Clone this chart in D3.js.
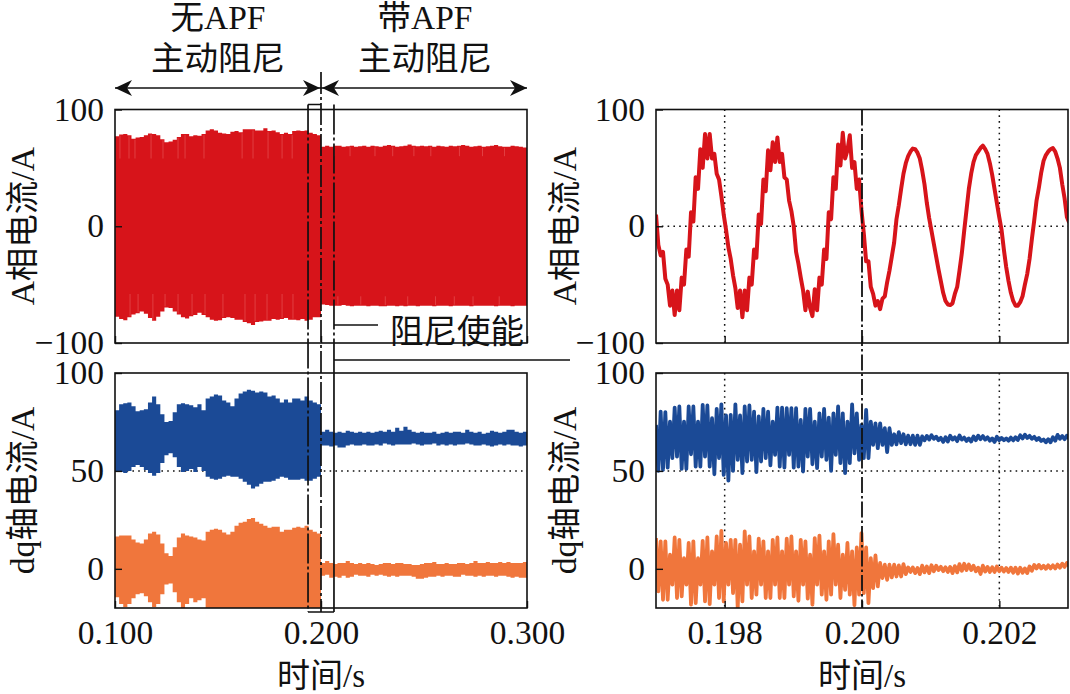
<!DOCTYPE html>
<html>
<head>
<meta charset="UTF-8">
<title>APF 主动阻尼</title>
<script src="https://d3js.org/d3.v7.min.js"></script>
<style>
  html, body {margin: 0; padding: 0; background: #fff;}
  text {font-family: "Liberation Serif", "Noto Sans CJK SC", serif; fill: #111;}
</style>
</head>
<body>
<div id="chart"></div>
<script>
// left panels: envelopes read every 0.002 s, 0.100 .. 0.300
var bandStart = 0.1, bandStep = 0.002;
var ia_hi = [77,78.6,79,78,75,76,76.5,78,79.5,79,
  78,74.5,72,72.5,74,76.5,79,79,77,78,
  77.5,79,82,83,82,80,79.5,79,81,81.5,
  80.5,83,83,83,82,82,84,81.5,82,80.5,
  79,80,79,81.5,82,81.5,82,80,79,78,
  68,69,68,69,69,68,68.5,69,68,68.5,
  69,68,69,68.5,68,69,69.5,69,68,68.5,
  69,70,69,68.5,69,68.5,69,68,69,68.5,
  68,69,68.5,69,69.5,69,68,68.5,69,68,
  68.5,69,69.5,68.5,68,68,69,68.5,68,67.5,67.5];
var ia_lo = [-77.5,-79.5,-80.5,-78,-75.5,-74.5,-73,-75,-78.5,-81,
  -77.5,-73,-69.5,-70,-73,-75.5,-78,-79,-77,-76,
  -74,-76,-78,-80,-81,-80.5,-78.5,-78,-78.5,-80,
  -80,-82,-83,-84.5,-82,-81.5,-81,-81,-79.5,-80,
  -79.5,-78.5,-80,-80,-80.5,-79.5,-81,-80,-78,-78,
  -67,-67.5,-68,-68,-68,-67.5,-68,-68.5,-68,-68,
  -68,-68.5,-68,-68,-68.5,-68.5,-68,-68,-68.5,-68,
  -68.5,-68,-68,-68.5,-68,-68,-68,-68.5,-68,-68,
  -68,-68.5,-68,-68,-68,-68,-68.5,-68,-68,-68,
  -68,-68,-68.5,-68,-68,-68,-68.5,-68,-68,-68,-68];
var id_hi = [81,84,84.5,85,83,80.5,81,81.5,85,88,
  84,79,75,75.5,80,84,84.5,84,83.5,82.5,
  84,81,87,88,89,88.5,86,85,83,87,
  89.5,90.5,91.5,91,90,90.5,90,88,88.5,87,
  85,86.5,85,87,87,86,88,86,85,84,
  70,71,70,69.5,70,69.5,70.5,70,69.5,70,
  69.5,70,69.5,70,70.5,70,71,70,72,70.5,
  72.5,71,70,69.5,70,69.5,69.5,70,69,69.5,
  70,69.5,70,70,69.5,71,70,69.5,70,69,
  69.5,70.5,70,69.5,70,71,71,70,69.5,70,69.5];
var id_lo = [49.7,49.5,49,50,52,53,52,50.5,49,47.5,
  49,54,58,59,57,52,49.5,50,51,49.5,
  52,50,47,46,45.5,46,47,47.5,47,47,
  46,44.5,43,41,42,43.5,44.5,44.5,45,46,
  47,46.5,45.5,45.5,45.5,46,45,45,46,47,
  63,63,62.5,63,62,62,63,63.5,63,63,
  63.5,63,63,63.5,63,64,63.5,63,63.5,63.5,
  63.5,63.5,64,63.5,63,63.5,63.5,64,63,63.5,
  63,63.5,63,63.5,63.5,64,63.5,63,63,63.5,
  63,62.5,63,63.5,63,63.5,63,63,62.5,63,63];
var iq_hi = [16.5,17,17,17,15,13.5,13,15,18,19,
  17.5,13,8,6.5,11,16,18,17,16.5,16,
  15,14.5,19,20,20.5,20,18.5,17.5,19,22,
  23.5,24,25.5,26,24,23,22,21,21.5,21.5,
  19,20,20,21,21.5,21,22,20,19,18,
  3,4,3,2.5,3,3,4,3,2.5,3,
  2.5,3,2.5,2,2.5,3,3,2.5,3,3,
  2.5,2.5,2,2,2.5,3,3,3.5,2.5,2.5,
  3,2.5,2.5,3,3,2.5,3,4,3,3,
  3.5,3,3,3.5,3,3.5,3,3,3,3.5,2.5];
var iq_lo = [-14.5,-18,-19.5,-18,-15,-13,-12.5,-14,-17,-19.5,
  -18,-13,-8,-7.5,-12,-17,-20,-18,-15,-17,
  -16,-15,-21,-22,-23,-22,-21,-23,-24,-22,
  -23,-24,-25,-24,-23,-24,-22,-23,-24,-23,
  -22,-23,-24,-23,-22,-23,-24,-23,-22,-21,
  -3.5,-3,-4.5,-4,-4.5,-3.5,-4.5,-4,-3,-3.5,
  -3.5,-4,-3,-3.5,-3,-3.5,-4,-3.5,-4,-3.5,
  -3.5,-3.5,-4,-5,-5,-4.5,-4,-4,-3.5,-4,
  -3.5,-3.5,-4,-4,-3,-3.5,-3.5,-4,-3.5,-4,
  -3.5,-3.5,-4,-3.5,-3.5,-4,-4.5,-4,-4.5,-4.5,-4];
// lighter streaks inside the red band, times in s
var streakTop = [0.1024,0.1068,0.1097,0.1175,0.1233,0.1306,0.134,0.1432,0.1617,0.167,0.1743,0.1811,0.186,
  0.2065,0.2141,0.2262,0.2348,0.2451,0.2533,0.2672,0.2784,0.2891];
var streakBottom = [0.1073,0.1112,0.1184,0.1243,0.1306,0.1374,0.1437,0.1524,0.1631,0.168,0.1738,0.1811,0.1864,
  0.2082,0.2193,0.2312,0.2421,0.2556,0.2647,0.2738,0.2865];

// right panels: red line read every 0.000034 s from 0.197
var zoomStart = 0.197, redStep = 0.000034, toothStep = 0.000068;
var ia_zoom = [10,-16,-25,-22,-45,-50,-68,-55,-76,-55,-72,-44,-50,-20,-26,12,4,42,32,66,50,79,58,79,58,62,45,40,26,10,
  -3,-18,-28,-42,-53,-70,-55,-78,-55,-72,-44,-50,-20,-27,10,2,40,30,65,48,72,55,76,55,62,42,40,22,13,0,
  -22,-32,-44,-55,-72,-56,-70,-77,-54,-72,-44,-50,-20,-28,12,6,42,32,70,52,80,58,65,78,50,55,32,40,14,-6,
  -30,-30,-52,-58,-68,-64,-71,-62,-60,-48,-38,-26,-14,6,18,32,45,54,60,64,66.5,66,63,58,48,36,20,7,
  -4,-15,-26,-37,-47,-57,-64,-67,-67.5,-66,-58,-52,-38,-23,-4,14,32,45,55,61,64,67,69,66,62,54,44,32,20,8,
  -3,-20,-35,-47,-57,-64,-68,-68,-65,-60,-50,-41,-28,-11,5,22,33,46,56,61,64,66,67,64,58,50,36,24,8,3];

// dq teeth: one top and one bottom per ripple period
var id_zoom_hi = [73.5,80.3,80,75.2,82.3,82.9,75.2,82.9,82.9,75.2,
  83.7,83.4,76.9,81.7,84,78.3,78.6,84,78.3,82.9,
  83.4,80.3,77.8,81.7,80.3,75.2,82.3,82.3,82,
  82,82,76,81.7,81.7,75.2,79.4,81.7,77.2,79.4,
  82.9,79.4,75.2,84,79.4,73.5,81.2,75.2,74.3,74.3,
  71.8,71.8,68.7,69.8,68.7,68,68,68,
  67.6,67.9,68.2,67.5,66.9,67.2,68,67.2,68.1,67,
  66.6,67.6,68,67.8,67.2,66.6,67.4,66.8,66.6,67,
  67.2,68.2,68.5,67.9,67.4,66.8,66,66.2,67.2,68.4,67.8,68];
var id_zoom_lo = [50,50.5,51.7,56.5,57.3,51,51,58.5,52.2,52.2,
  57.3,52.2,48.3,56.5,48,45,50,55.6,48.9,54.8,
  55.6,49.4,54.8,56.5,52.8,58.2,52.2,51.7,
  58.2,51.7,52.2,49.7,57.3,53.4,51.4,57.3,55.6,50,
  58.2,54,48.9,54,59,55.6,56.5,56.5,63.3,61.6,
  63.3,59.6,63.3,63.6,64.2,63.6,63.6,63.3,63.3,
  65.6,66,66.4,65.7,64.8,65,66,65.2,66,65.3,
  65,65.7,66.2,66,65.4,64.8,65.7,65.7,65.4,65.6,
  65.8,66.6,66.8,66.4,65.8,65.3,64.6,64.6,65.4,66.4,66.2,66.6];
var iq_zoom_hi = [15.7,14,14,7.2,16,14.8,5.5,13.2,14,5.5,
  14.3,16,8.9,16.5,19.4,13.2,14.8,14.8,12.3,19.1,
  16.5,8.9,15.4,14,8.9,14.8,16,8.9,15.4,
  16.5,8.9,14.8,14,7.2,15.7,17,8.9,14,17.7,
  12.3,7.2,13.2,8.9,10.9,18.2,10.9,5.5,6.9,3,
  2.1,2.1,2.1,1.8,2.4,0.7,0.7,0.4,
  1.6,1.2,1.8,1.6,1,0.8,1,1.4,2.4,2.6,
  2.2,1.6,0.6,1.6,1,0.8,1.2,0.6,0.4,0.6,
  0.6,0.6,0.2,1.2,2,2,1.6,1.8,1.8,2.2,2.6,3];
var iq_zoom_lo = [-11.5,-15.8,-15.8,-8.1,-14.9,-14.1,-8.1,-18.3,-17.5,-8.1,
  -16.6,-18,-8.1,-14.9,-16.6,-8.1,-12.4,-20,-16.6,-8.1,
  -14.9,-13.2,-8.1,-14.9,-14.9,-8.1,-14.9,-14.9,
  -8.1,-14.1,-16.3,-8.1,-15.2,-18.3,-8.1,-13.2,-15.8,-13.2,
  -8.1,-14.9,-10.7,-13.2,-18.6,-13.2,-12.4,-17.5,-9.8,-9,
  -4.7,-5.6,-4.4,-3.9,-3.9,-2.7,-1.6,-2.2,-2.7,
  -1.8,-2.2,-1.2,-0.6,-1.2,-1.6,-2.2,-1.8,-1,-0.6,
  -0.6,-1.2,-2.6,-1.4,-1.6,-1.6,-1.2,-1.4,-1.6,-2,
  -2.4,-2,-2.2,-1,0.2,0.2,0,0.2,0.2,0.6,1,1.4];

var iaTicks = [-100, 0, 100], dqTicks = [0, 50, 100];
var leftTimeTicks = [0.1, 0.2, 0.3], rightTimeTicks = [0.198, 0.2, 0.202];
var enableTime = 0.2, boxFrom = 0.1937, boxTo = 0.2063;

var red = "#d7141a", blue = "#1b4a96", orange = "#f0763c";

var width = 1070, height = 694;
var svg = d3.select("#chart").append("svg")
    .attr("width", width).attr("height", height)
    .style("display", "block");

var defs = svg.append("defs");
defs.append("clipPath").attr("id", "clipL").append("rect")
    .attr("x", 115).attr("y", 109.5).attr("width", 412).attr("height", 498.5);
defs.append("clipPath").attr("id", "clipR").append("rect")
    .attr("x", 656).attr("y", 109.5).attr("width", 412).attr("height", 498.5);

var xLeft = d3.scaleLinear().domain([0.1, 0.3]).range([115, 527]);
var xRight = d3.scaleLinear().domain([0.197, 0.203]).range([656, 1068]);
var yIa = d3.scaleLinear().domain([-100, 100]).range([343, 109.5]);
var yDq = d3.scaleLinear().domain([-20, 100]).range([608, 373]);

function frame(x, y, yTicks, xTicks, xLabelsOn, yTitle, titleX) {
  var left = x.range()[0];
  var bottom = y.range()[0];
  var gx = svg.append("g").attr("transform", "translate(0," + bottom + ")")
      .call(d3.axisBottom(x).tickValues(xTicks).tickSize(-7).tickPadding(12)
        .tickFormat(xLabelsOn ? d3.format(".3f") : ""));
  var gy = svg.append("g").attr("transform", "translate(" + left + ",0)")
      .call(d3.axisLeft(y).tickValues(yTicks).tickSize(-7).tickPadding(11)
        .tickFormat(function(d) { return d < 0 ? "\u2212" + (-d) : d; }));
  [gx, gy].forEach(function(g) {
    g.attr("font-family", null).attr("font-size", null);
    g.select(".domain").remove();
    g.selectAll("line").attr("stroke", "#111").attr("stroke-width", 1.4);
    g.selectAll("text").style("font-size", "33.5px");
  });
  svg.append("rect")
      .attr("x", left).attr("y", y.range()[1])
      .attr("width", x.range()[1] - left).attr("height", bottom - y.range()[1])
      .attr("fill", "none").attr("stroke", "#111").attr("stroke-width", 1.6);
  var cy = (y.range()[0] + y.range()[1]) / 2;
  svg.append("text")
      .attr("transform", "translate(" + titleX + "," + cy + ") rotate(-90)")
      .attr("text-anchor", "middle").attr("dy", "0.3em")
      .style("font-size", "33.5px").text(yTitle);
}

function dotted(x1, y1, x2, y2) {
  svg.append("line").attr("x1", x1).attr("y1", y1).attr("x2", x2).attr("y2", y2)
      .attr("stroke", "#111").attr("stroke-width", 1.5)
      .attr("stroke-dasharray", "1.6 4.2");
}

function band(hi, lo, y, color) {
  var area = d3.area()
      .curve(d3.curveStepAfter)
      .x(function(d, i) { return xLeft(bandStart + i * bandStep); })
      .y0(function(d, i) { return y(lo[i]); })
      .y1(function(d) { return y(d); });
  svg.append("path").datum(hi)
      .attr("clip-path", "url(#clipL)")
      .attr("fill", color).attr("d", area);
}

function teeth(hi, lo) {
  var pts = [];
  hi.forEach(function(d, i) {
    pts.push([zoomStart + i * toothStep, d]);
    if (i < lo.length) pts.push([zoomStart + (i + 0.5) * toothStep, lo[i]]);
  });
  return pts;
}

function zoomLine(pts, y, color, w) {
  var line = d3.line()
      .x(function(d) { return xRight(d[0]); })
      .y(function(d) { return y(d[1]); });
  svg.append("path").datum(pts)
      .attr("clip-path", "url(#clipR)")
      .attr("fill", "none").attr("stroke", color)
      .attr("stroke-width", w).attr("stroke-linejoin", "round")
      .attr("d", line);
}

function bandIndex(t) { return Math.floor((t - bandStart) / bandStep); }

// dotted grid, under the data
dotted(xLeft(0.1), yDq(50), xLeft(0.3), yDq(50));
dotted(xRight(0.197), yIa(0), xRight(0.203), yIa(0));
dotted(xRight(0.197), yDq(50), xRight(0.203), yDq(50));
dotted(xRight(0.198), yIa(100), xRight(0.198), yIa(-100));
dotted(xRight(0.202), yIa(100), xRight(0.202), yIa(-100));
dotted(xRight(0.198), yDq(100), xRight(0.198), yDq(-20));
dotted(xRight(0.202), yDq(100), xRight(0.202), yDq(-20));

// left bands
band(ia_hi, ia_lo, yIa, red);
band(id_hi, id_lo, yDq, blue);
band(iq_hi, iq_lo, yDq, orange);

svg.selectAll("line.streakT").data(streakTop).enter().append("line")
    .attr("class", "streakT")
    .attr("x1", function(d) { return xLeft(d); }).attr("x2", function(d) { return xLeft(d); })
    .attr("y1", function(d) { return yIa(ia_hi[bandIndex(d)]) + 1; })
    .attr("y2", function(d) { return yIa(d < enableTime ? 58 : 60); })
    .attr("stroke", "#ee6a6a").attr("stroke-width", 1).attr("stroke-opacity", 0.5);
svg.selectAll("line.streakB").data(streakBottom).enter().append("line")
    .attr("class", "streakB")
    .attr("x1", function(d) { return xLeft(d); }).attr("x2", function(d) { return xLeft(d); })
    .attr("y1", function(d) { return yIa(ia_lo[bandIndex(d)]) - 1; })
    .attr("y2", function(d) { return yIa(d < enableTime ? -58 : -60); })
    .attr("stroke", "#ee6a6a").attr("stroke-width", 1).attr("stroke-opacity", 0.5);

// right lines
var redPts = ia_zoom.map(function(d, i) { return [zoomStart + i * redStep, d]; });
zoomLine(redPts, yIa, red, 4);
zoomLine(teeth(id_zoom_hi, id_zoom_lo), yDq, blue, 3.8);
zoomLine(teeth(iq_zoom_hi, iq_zoom_lo), yDq, orange, 3.8);

frame(xLeft, yIa, iaTicks, leftTimeTicks, false, "A相电流/A", 24);
frame(xRight, yIa, iaTicks, rightTimeTicks, false, "A相电流/A", 566);
frame(xLeft, yDq, dqTicks, leftTimeTicks, true, "dq轴电流/A", 24);
frame(xRight, yDq, dqTicks, rightTimeTicks, true, "dq轴电流/A", 566);

function xTitle(cx) {
  svg.append("text").attr("x", cx).attr("y", 687).attr("text-anchor", "middle")
      .style("font-size", "33px").text("时间/s");
}
xTitle(321);
xTitle(862);

// enable marker in the zoomed panels
svg.append("line")
    .attr("x1", xRight(enableTime)).attr("x2", xRight(enableTime))
    .attr("y1", yIa(100)).attr("y2", yDq(-20))
    .attr("stroke", "#111").attr("stroke-width", 1.8)
    .attr("stroke-dasharray", "16 3 2.5 3");

// box and dash-dot lines of the left panels
function vLine(t, y1, y2, dash) {
  svg.append("line")
      .attr("x1", xLeft(t)).attr("x2", xLeft(t)).attr("y1", y1).attr("y2", y2)
      .attr("stroke", "#111").attr("stroke-width", 1.7)
      .attr("stroke-dasharray", dash);
}
vLine(boxFrom, 104.5, 612, "30 3 3 3");
vLine(enableTime, 72, 612, "22 3 3 3");
vLine(boxTo, 104.5, 360, "30 3 3 3");
vLine(boxTo, 360, 612, null);
svg.append("path")
    .attr("d", "M" + xLeft(boxFrom) + ",104.5H" + xLeft(enableTime)
      + "M" + xLeft(boxFrom) + ",612H" + xLeft(boxTo)
      + "M" + xLeft(boxTo) + ",360H570")
    .attr("fill", "none").attr("stroke", "#111").attr("stroke-width", 1.7);

// range arrows
function head(x, dir) {
  svg.append("path")
      .attr("d", "M" + x + ",88 l" + (-dir * 17) + ",-8 l" + (dir * 5) + ",8 l" + (-dir * 5) + ",8 Z")
      .attr("fill", "#111");
}
svg.append("path")
    .attr("d", "M" + xLeft(0.1) + ",88H" + xLeft(0.3))
    .attr("stroke", "#111").attr("stroke-width", 1.7);
head(xLeft(0.1), -1);
head(xLeft(enableTime) - 1, 1);
head(xLeft(enableTime) + 1, -1);
head(xLeft(0.3), 1);

function label(cx, baseline, s, anchor) {
  svg.append("text").attr("x", cx).attr("y", baseline)
      .attr("text-anchor", anchor || "middle")
      .style("font-size", "33.5px").text(s);
}
label(218, 29, "无APF");
label(218, 70, "主动阻尼");
label(425, 29, "带APF");
label(425, 70, "主动阻尼");
label(390, 343, "阻尼使能", "start");
svg.append("line").attr("x1", 334).attr("x2", 378).attr("y1", 325).attr("y2", 325)
    .attr("stroke", "#111").attr("stroke-width", 1.6);
</script>
</body>
</html>
